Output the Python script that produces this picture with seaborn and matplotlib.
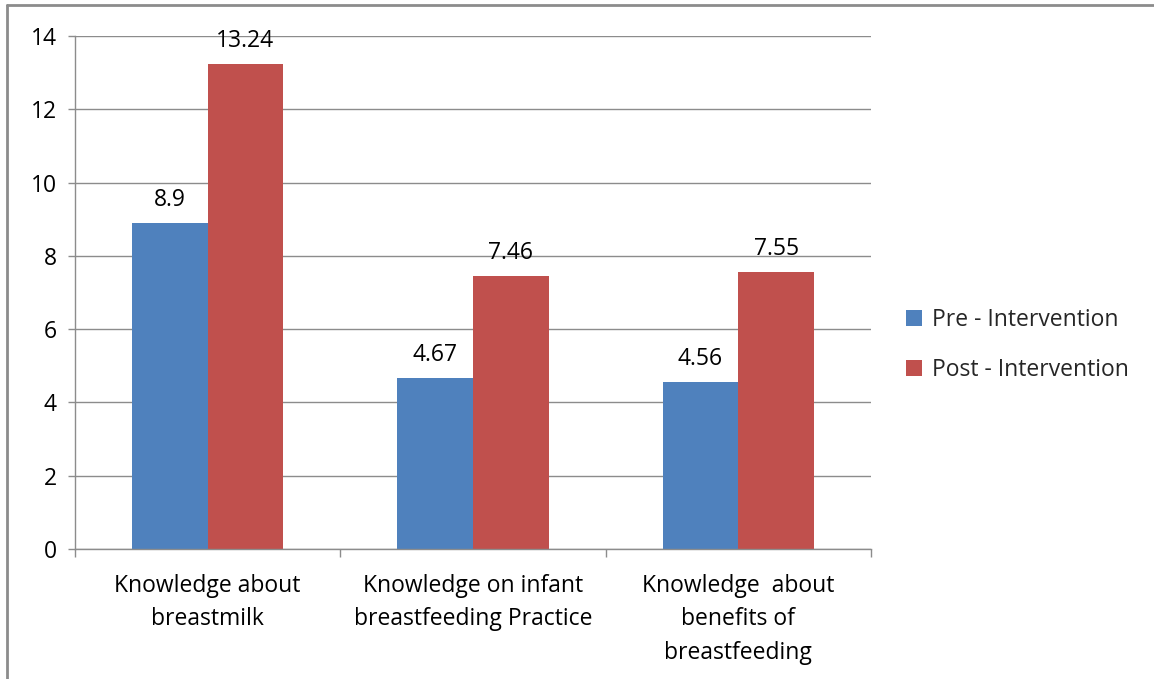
import matplotlib
matplotlib.use("Agg")
import matplotlib.pyplot as plt
import seaborn as sns
import pandas as pd
from matplotlib.lines import Line2D
from matplotlib.patches import Patch

categories = ["Knowledge about\nbreastmilk",
              "Knowledge on infant\nbreastfeeding Practice",
              "Knowledge  about\nbenefits of\nbreastfeeding"]
series = ["Pre - Intervention", "Post - Intervention"]
pre_values = [8.9, 4.67, 4.56]
post_values = [13.24, 7.46, 7.55]
colors = ["#4F81BD", "#C0504D"]
yticks = [0, 2, 4, 6, 8, 10, 12, 14]

FS = 16.5

sns.set_theme(style="white")
plt.rcParams["font.family"] = ["Open Sans", "DejaVu Sans"]

df = pd.DataFrame({
    "category": categories * 2,
    "series": [series[0]] * 3 + [series[1]] * 3,
    "value": pre_values + post_values,
})

fig = plt.figure(figsize=(11.54, 6.79), dpi=100)
ax = fig.add_axes([75 / 1154, 130 / 679, (871 - 75) / 1154, (549 - 36) / 679])

sns.barplot(data=df, x="category", y="value", hue="series", hue_order=series,
            palette=colors, width=0.57, saturation=1, ax=ax, legend=False,
            edgecolor="none", linewidth=0)

for cont, vals in zip(ax.containers, [pre_values, post_values]):
    ax.bar_label(cont, labels=[f"{v:g}" for v in vals], padding=8,
                 fontsize=FS, color="#000000")

ax.set_ylim(0, 14)
ax.set_xlim(-0.5, 2.5)
ax.set_yticks(yticks)
ax.set_yticklabels([str(t) for t in yticks], fontsize=FS)
ax.yaxis.grid(True, color="#8C8C8C", linewidth=1)
ax.set_axisbelow(True)
ax.set_xlabel("")
ax.set_ylabel("")
ax.tick_params(axis="y", which="major", direction="out", length=5, width=1,
               color="#8C8C8C", pad=8, left=True, labelcolor="#000000")
ax.set_xticks([0, 1, 2])
ax.set_xticklabels(categories, fontsize=FS, linespacing=1.52, color="#000000")
ax.set_xticks([-0.5, 0.5, 1.5, 2.5], minor=True)
ax.tick_params(axis="x", which="major", length=0, pad=18)
ax.tick_params(axis="x", which="minor", direction="out", length=6, width=1,
               color="#8C8C8C", bottom=True)
for s in ["top", "right"]:
    ax.spines[s].set_visible(False)
for s in ["left", "bottom"]:
    ax.spines[s].set_color("#8C8C8C")
    ax.spines[s].set_linewidth(1)

handles = [Patch(facecolor=c, edgecolor="none") for c in colors]
fig.legend(handles, series, loc="center left", bbox_to_anchor=(906 / 1154, 1 - 345 / 679),
           frameon=False, fontsize=FS, handlelength=0.7, handleheight=0.7,
           handletextpad=0.45, labelspacing=1.1, borderpad=0, borderaxespad=0)

fig.add_artist(Line2D([7 / 1154, 7 / 1154], [0, 1 - 5 / 679], transform=fig.transFigure,
                      color="#8C8C8C", linewidth=2))
fig.add_artist(Line2D([7 / 1154, 1], [1 - 5 / 679, 1 - 5 / 679], transform=fig.transFigure,
                      color="#8C8C8C", linewidth=2))

fig.savefig("out.png", dpi=100)
